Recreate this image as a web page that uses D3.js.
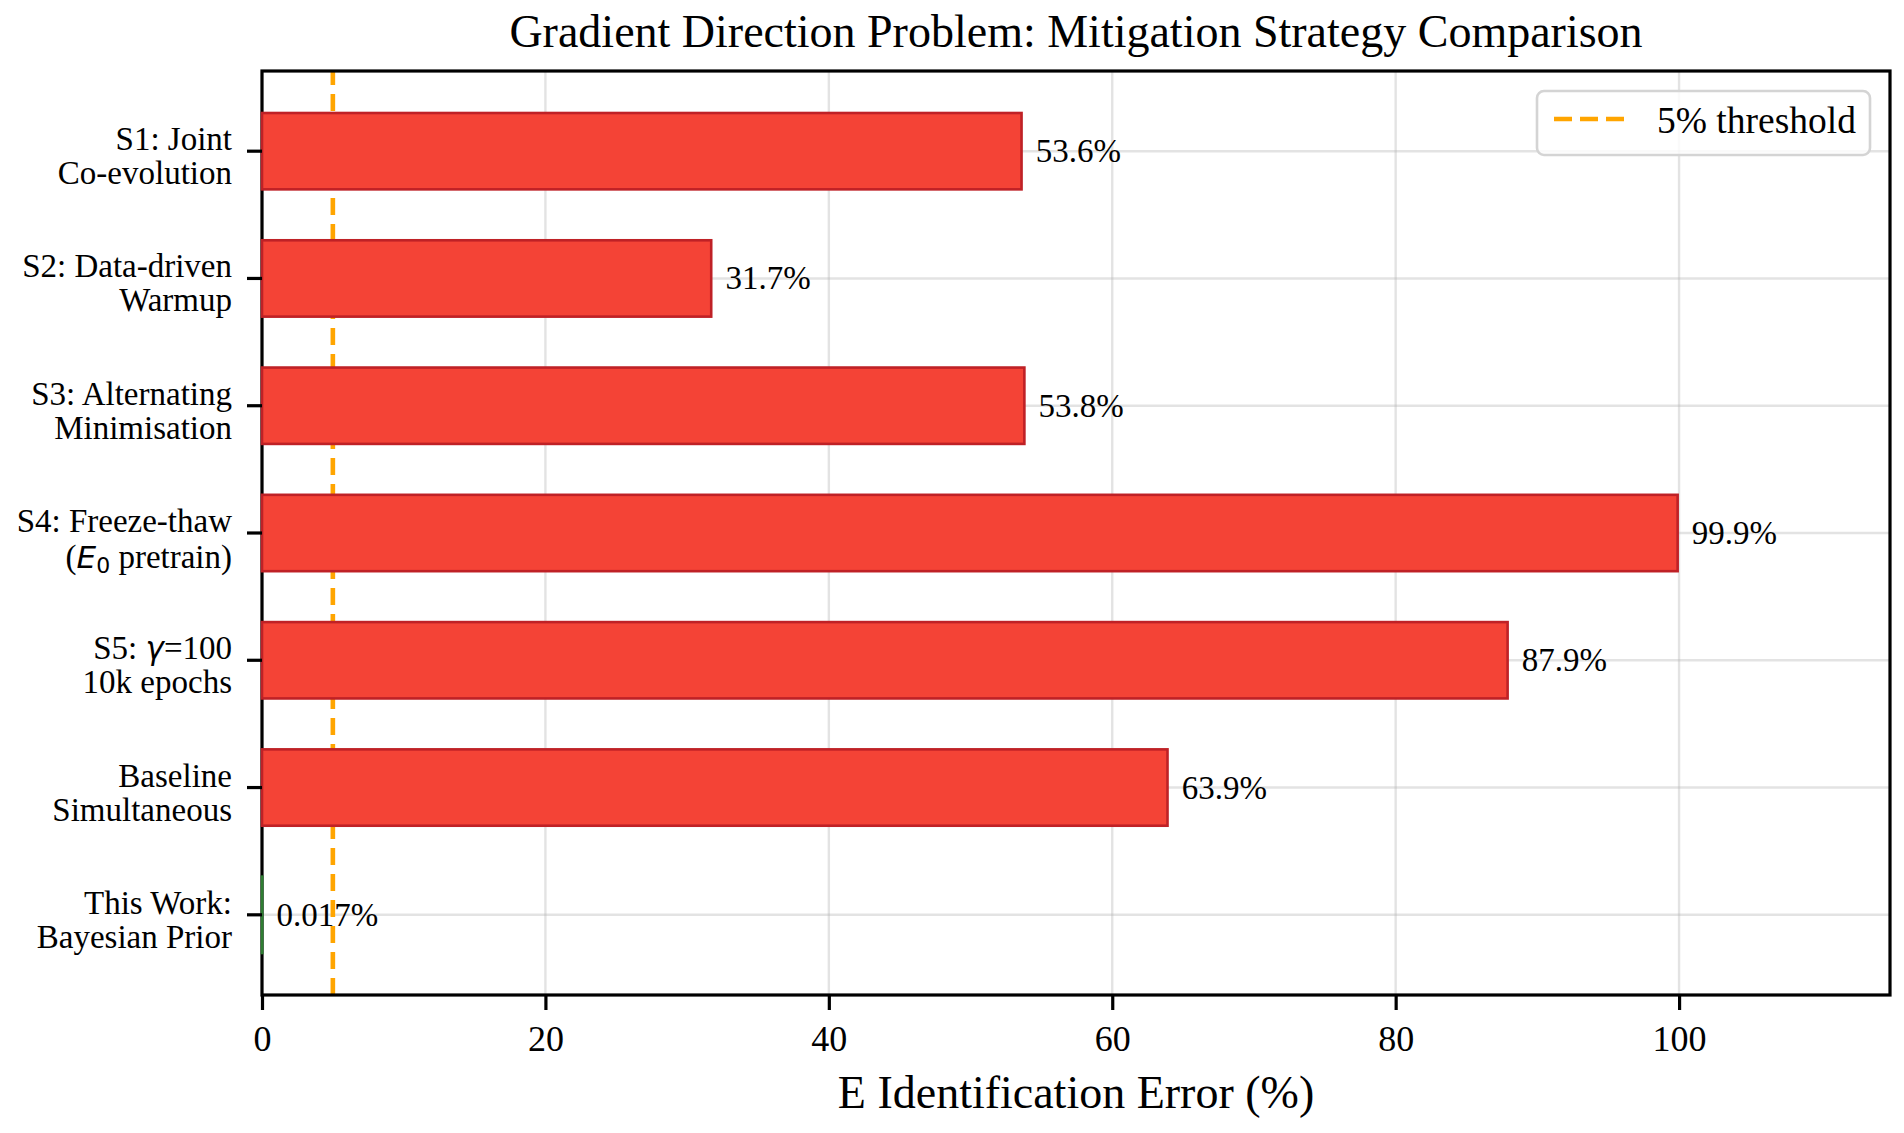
<!DOCTYPE html>
<html>
<head>
<meta charset="utf-8">
<script src="https://cdn.jsdelivr.net/npm/d3@7"></script>
<style>
  body { margin: 0; background: #fff; }
  svg text { font-family: "Liberation Serif", "Times New Roman", serif; fill: #000; }
</style>
</head>
<body>
<div id="chart-container"></div>
<script>
// data
const categories = ["S1", "S2", "S3", "S4", "S5", "Baseline", "This Work"];
const labelLines = [
  ["S1: Joint", "Co-evolution"],
  ["S2: Data-driven", "Warmup"],
  ["S3: Alternating", "Minimisation"],
  ["S4: Freeze-thaw", "(E0 pretrain)"],
  ["S5: γ=100", "10k epochs"],
  ["Baseline", "Simultaneous"],
  ["This Work:", "Bayesian Prior"]
];
const errors = [53.6, 31.7, 53.8, 99.9, 87.9, 63.9, 0.017];
const valueLabels = ["53.6%", "31.7%", "53.8%", "99.9%", "87.9%", "63.9%", "0.017%"];
const xTicks = [0, 20, 40, 60, 80, 100];
const threshold = 5;

const W = 1904, H = 1133;
const margin = {top: 71, right: 14, bottom: 138, left: 262};
const width = W - margin.left - margin.right,
      height = H - margin.top - margin.bottom;

const svg = d3.select("#chart-container")
  .append("svg")
  .attr("width", W)
  .attr("height", H);

const g = svg.append("g")
  .attr("transform", `translate(${margin.left},${margin.top})`);

const x = d3.scaleLinear()
  .domain([0, d3.max(errors) * 1.15])
  .range([0, width]);

const y = d3.scaleBand()
  .domain(categories)
  .range([0, height])
  .paddingInner(0.4)
  .paddingOuter(0.33);

// grid
g.append("g").selectAll("line")
  .data(xTicks)
  .join("line")
  .attr("x1", d => x(d)).attr("x2", d => x(d))
  .attr("y1", 0).attr("y2", height)
  .attr("stroke", "#b0b0b0").attr("stroke-opacity", 0.35).attr("stroke-width", 2.4);
g.append("g").selectAll("line")
  .data(categories)
  .join("line")
  .attr("x1", 0).attr("x2", width)
  .attr("y1", d => y(d) + y.bandwidth() / 2)
  .attr("y2", d => y(d) + y.bandwidth() / 2)
  .attr("stroke", "#b0b0b0").attr("stroke-opacity", 0.35).attr("stroke-width", 2.4);

// threshold line (under bars)
g.append("line")
  .attr("x1", x(threshold)).attr("x2", x(threshold))
  .attr("y1", height).attr("y2", 0)
  .attr("stroke", "#ffa500")
  .attr("stroke-width", 4.6)
  .attr("stroke-dasharray", "17,9");

// frame
g.append("rect")
  .attr("x", 0).attr("y", 0)
  .attr("width", width).attr("height", height)
  .attr("fill", "none")
  .attr("stroke", "#000")
  .attr("stroke-width", 3.2);

// bars
g.selectAll("rect.bar")
  .data(categories)
  .join("rect")
  .attr("class", "bar")
  .attr("x", 0)
  .attr("y", d => y(d))
  .attr("width", (d, i) => x(errors[i]))
  .attr("height", y.bandwidth())
  .attr("fill", (d, i) => errors[i] < threshold ? "#4caf50" : "#f44336")
  .attr("stroke", (d, i) => errors[i] < threshold ? "#2e7d32" : "#bf2126")
  .attr("stroke-width", 2.6);

// value labels
g.selectAll("text.val")
  .data(categories)
  .join("text")
  .attr("class", "val")
  .attr("x", (d, i) => x(errors[i] + 1))
  .attr("y", d => y(d) + y.bandwidth() / 2 + 11)
  .attr("font-size", 33)
  .text((d, i) => valueLabels[i]);

// x axis
const xAxis = g.append("g")
  .attr("transform", `translate(0,${height})`)
  .call(d3.axisBottom(x).tickValues(xTicks).tickSize(15).tickPadding(0).tickFormat(d3.format("d")));
xAxis.select(".domain").remove();
xAxis.selectAll(".tick line").attr("stroke", "#000").attr("stroke-width", 3.2);
xAxis.selectAll(".tick text")
  .attr("font-size", 36)
  .attr("font-family", "Liberation Serif, serif")
  .attr("y", 56)
  .attr("dy", null);

// y axis
const yAxis = g.append("g")
  .call(d3.axisLeft(y).tickSize(15).tickFormat(""));
yAxis.select(".domain").remove();
yAxis.selectAll(".tick line").attr("stroke", "#000").attr("stroke-width", 3.2);
yAxis.selectAll(".tick").each(function(d, i) {
  const t = d3.select(this).append("text")
    .attr("x", -30)
    .attr("text-anchor", "end")
    .attr("font-size", 33)
    .attr("font-family", "Liberation Serif, serif")
    .attr("fill", "#000");
  labelLines[i].forEach((line, j) => {
    const baseY = j === 0 ? -1 : 33;
    if (line.startsWith("(E0")) {
      const tt = t.append("tspan").attr("x", -30).attr("y", baseY + 2);
      tt.append("tspan").text("(");
      tt.append("tspan").attr("font-family", "DejaVu Sans").attr("font-style", "italic").attr("font-size", 31).text("E");
      tt.append("tspan").attr("font-family", "DejaVu Sans").attr("font-size", 22).attr("dy", 5).text("0");
      tt.append("tspan").attr("dy", -5).text(" pretrain)");
    } else if (line.includes("γ")) {
      const tt = t.append("tspan").attr("x", -30).attr("y", baseY);
      const parts = line.split("γ");
      tt.append("tspan").text(parts[0]);
      tt.append("tspan").attr("font-family", "DejaVu Sans").attr("font-style", "italic").attr("font-size", 31).text("γ");
      tt.append("tspan").text(parts[1]);
    } else {
      t.append("tspan").attr("x", -30).attr("y", baseY).text(line);
    }
  });
});

// legend
const lg = svg.append("g").attr("transform", "translate(1537,91)");
lg.append("rect")
  .attr("width", 333).attr("height", 64)
  .attr("rx", 7).attr("ry", 7)
  .attr("fill", "#fff").attr("fill-opacity", 0.8)
  .attr("stroke", "#d4d4d4").attr("stroke-width", 2.6);
lg.append("line")
  .attr("x1", 17).attr("x2", 89)
  .attr("y1", 28).attr("y2", 28)
  .attr("stroke", "#ffa500").attr("stroke-width", 4.6)
  .attr("stroke-dasharray", "18,8");
lg.append("text")
  .attr("x", 120).attr("y", 42)
  .attr("font-size", 37.5)
  .text("5% threshold");

// title
svg.append("text")
  .attr("x", margin.left + width / 2)
  .attr("y", 47)
  .attr("text-anchor", "middle")
  .attr("font-size", 46)
  .text("Gradient Direction Problem: Mitigation Strategy Comparison");

// x label
svg.append("text")
  .attr("x", margin.left + width / 2)
  .attr("y", 1108)
  .attr("text-anchor", "middle")
  .attr("font-size", 46)
  .text("E Identification Error (%)");
</script>
</body>
</html>
